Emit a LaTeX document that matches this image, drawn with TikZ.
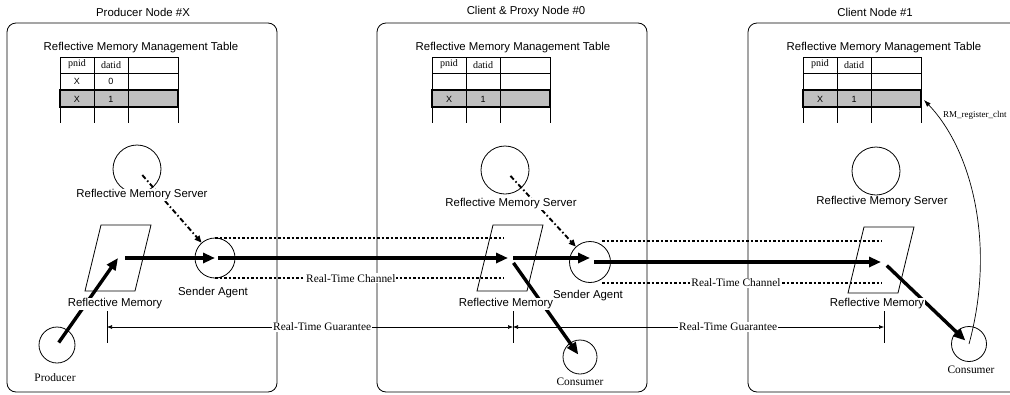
\documentclass[tikz,border=0pt]{standalone}
\usepackage{fontspec}
\setmainfont{Liberation Serif}
\setsansfont{Liberation Sans}
\usetikzlibrary{arrows.meta}

\begin{document}
\begin{tikzpicture}[x=1pt,y=-1pt,
    lbl/.style={font=\sffamily\fontsize{11.4}{13}\selectfont, inner sep=1pt},
    rmlbl/.style={font=\fontsize{11.4}{13}\selectfont, inner sep=1pt},
    cell/.style={font=\fontsize{10}{12}\selectfont, inner sep=0pt},
    cellsf/.style={font=\sffamily\fontsize{9}{11}\selectfont, inner sep=0pt},
    hostbox/.style={draw, line width=0.8pt, rounded corners=9pt},
    proc/.style={draw, circle, line width=0.8pt, inner sep=0pt},
    flow/.style={line width=3.4pt, -{Triangle[length=12pt,width=10pt]}},
    ctrl/.style={line width=1.9pt, dash pattern=on 5pt off 2.5pt on 1.5pt off 2.5pt,
      -{Triangle[length=7pt,width=6pt]}},
    chan/.style={line width=2pt, dash pattern=on 2.6pt off 1.9pt},
    guar/.style={line width=0.6pt, {Latex[length=5pt,width=4pt]}-{Latex[length=5pt,width=4pt]}},
  ]
  \useasboundingbox (0,0) rectangle (1010,394);

  % the three hosts
  \node[lbl] (host1) at (143,12) {Producer Node \#X};
  \node[lbl] (host2) at (526,12) {Client \& Proxy Node \#0};
  \node[lbl] (host3) at (875,12) {Client Node \#1};
  \draw[hostbox] (7,23) rectangle (277,392);
  \draw[hostbox] (377,23) rectangle (647,392);
  \draw[hostbox] (748,23) rectangle (1030,392);

  % management tables
  \foreach \tx in {60,432,803} {
    \node[lbl] (tbl\tx) at (\tx+81,48) {Reflective Memory Management Table};
    \fill[black!25] (\tx,90) rectangle (\tx+118,107);
    \draw[line width=0.7pt] (\tx,57) -- (\tx+118,57) (\tx,73) -- (\tx+118,73)
      (\tx,107) -- (\tx+118,107);
    \foreach \cx in {0,34,68,118}
      \draw[line width=0.7pt] (\tx+\cx,57) -- (\tx+\cx,123);
    \draw[line width=1.4pt] (\tx,90) rectangle (\tx+118,107);
    \node[cell] (pn\tx) at (\tx+17,64) {pnid};
    \node[cell] (da\tx) at (\tx+51,65) {datid};
    \node[cellsf] (px\tx) at (\tx+17,99) {X};
    \node[cellsf] (dx\tx) at (\tx+51,99) {1};
  }
  \node[cellsf] (px0) at (77,81) {X};
  \node[cellsf] (dx0) at (111,81) {0};

  % servers, agents, producer and consumers
  \node[proc, minimum size=48pt] (rms1) at (137,169) {};
  \node[proc, minimum size=40pt] (snd1) at (215,258) {};
  \node[proc, minimum size=36pt] (prod) at (57,345) {};
  \node[proc, minimum size=48pt] (rms2) at (505,170) {};
  \node[proc, minimum size=41pt] (snd2) at (590,262) {};
  \node[proc, minimum size=34pt] (cons2) at (580,357) {};
  \node[proc, minimum size=48pt] (rms3) at (876,171) {};
  \node[proc, minimum size=35pt] (cons3) at (969,344) {};

  % reflective memories
  \coordinate (rm1) at (118,258);
  \coordinate (rm2) at (510,258);
  \coordinate (rm3) at (881,260);
  \foreach \m in {rm1,rm2,rm3}
    \draw[line width=0.8pt, shift={(\m)}] (-17,-33) -- (33,-33) -- (17,33) -- (-33,33) -- cycle;

  % control from the servers
  \draw[ctrl, shorten <=8pt] (rms1.center) -- (snd1);
  \draw[ctrl, shorten <=8pt] (rms2.center) -- (snd2);

  % data path
  \draw[flow, shorten <=3pt] (prod.center) -- (rm1);
  \draw[flow, shorten <=7pt] (rm1) -- (snd1.center);
  \draw[flow, shorten <=3pt, shorten >=2pt] (snd1.center) -- (rm2);
  \draw[flow, shorten <=3pt] (rm2) -- (rm2 -| snd2.center);
  \draw[flow, shorten <=4pt] (snd2.center) -- (snd2.center -| rm3);
  \draw[flow, shorten <=6pt, shorten >=3pt] (rm2) -- (cons2.center);
  \draw[flow, shorten <=8pt, shorten >=5pt] (rm3) -- (cons3.center);

  % real-time channels
  \coordinate (ch1e) at (504,258);
  \coordinate (ch2e) at (882,262);
  \draw[chan] (snd1.north) -- (snd1.north -| ch1e);
  \draw[chan] (snd1.south) -- node[pos=.47, rmlbl, fill=white] (ch1) {Real-Time Channel} (snd1.south -| ch1e);
  \draw[chan, shorten <=12pt] (snd2.north) -- (snd2.north -| ch2e);
  \draw[chan, shorten <=12pt] (snd2.south) -- node[pos=.5, rmlbl, fill=white] (ch2) {Real-Time Channel} (snd2.south -| ch2e);

  % guarantees
  \coordinate (g1) at (107,327);
  \coordinate (g2) at (513,327);
  \coordinate (g3) at (884,327);
  \foreach \g in {g1,g2,g3}
    \draw[line width=1pt] ([yshift=16pt]\g) -- ([yshift=-16pt]\g);
  \draw[guar] (g1) -- node[pos=.53, rmlbl, fill=white] (gt1) {Real-Time Guarantee} (g2);
  \draw[guar] (g2) -- node[pos=.58, rmlbl, fill=white] (gt2) {Real-Time Guarantee} (g3);

  % client registration
  \coordinate (reg) at (924,100);
  \draw[line width=0.7pt, -{Latex[length=7pt,width=5pt]}] (cons3.center)
    .. controls (996,245) and (972,150) .. (reg);
  \node[font=\fontsize{9}{11}\selectfont, anchor=west, inner sep=0pt] (regl) at (943,115) {RM\_register\_clnt};

  % labels
  \node[lbl, fill=white] (rms1l) at (142,195) {Reflective Memory Server};
  \node[lbl, fill=white] (rms2l) at (511,204) {Reflective Memory Server};
  \node[lbl, fill=white] (rms3l) at (882,202) {Reflective Memory Server};
  \node[lbl, fill=white] (rm1l) at (115,304) {Reflective Memory};
  \node[lbl, fill=white] (rm2l) at (506,304) {Reflective Memory};
  \node[lbl, fill=white] (rm3l) at (877,304) {Reflective Memory};
  \node[lbl] (snd1l) at (213,293) {Sender Agent};
  \node[lbl] (snd2l) at (588,296) {Sender Agent};
  \node[rmlbl] (prodl) at (55,378) {Producer};
  \node[rmlbl] (cons2l) at (580,382) {Consumer};
  \node[rmlbl] (cons3l) at (971,370) {Consumer};
\end{tikzpicture}
\end{document}
